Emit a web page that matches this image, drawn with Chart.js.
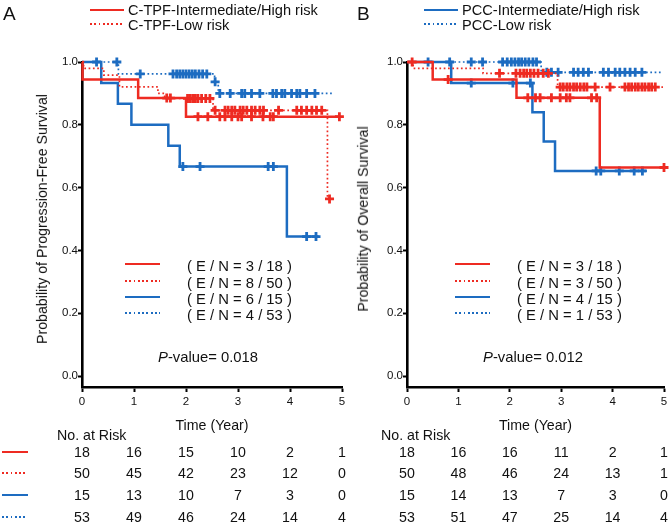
<!DOCTYPE html>
<html lang="en">
<head>
<meta charset="UTF-8">
<title>Kaplan-Meier curves by risk group</title>
<script src="https://cdn.jsdelivr.net/npm/chart.js"></script>
<style>
  body { margin: 0; background: #fff; font-family: Arial, "Liberation Sans", Helvetica, sans-serif; color: #111; }
  #page { position: relative; width: 672px; height: 526px; overflow: hidden; }
  canvas { position: absolute; top: 0; }
  .t { position: absolute; line-height: 1; white-space: nowrap; transform: translateY(-50%); font-size: 14px; }
  .c { transform: translate(-50%, -50%); }
  .ytitle { transform: translate(-50%, -50%) rotate(-90deg); }
  .smp { position: absolute; }
</style>
</head>
<body>
<div id="page">
  <canvas id="chartA" width="350" height="420" style="left:0px"></canvas>
  <canvas id="chartB" width="336" height="420" style="left:336px"></canvas>
</div>
<script>
const RED = '#ee2b22';
const BLUE = '#1d6cc1';

const xTicks = [0, 1, 2, 3, 4, 5];
const yTicks = [0, 0.2, 0.4, 0.6, 0.8, 1.0];

// ---- Panel A: progression-free survival ----
const pfsRedHighT = [0.01, 1.08, 2.0];
const pfsRedHighS = [0.944, 0.885, 0.826];
const pfsRedHighCens = [1.63, 1.7, 2.23, 2.42, 2.65, 2.75, 2.88, 3.0, 3.07, 3.26, 3.48, 3.62, 3.68, 4.95];

const pfsRedLowT = [0.03, 0.42, 0.72, 1.46, 1.59, 2.52, 4.72];
const pfsRedLowS = [0.98, 0.958, 0.921, 0.9, 0.884, 0.846, 0.564];
const pfsRedLowCens = [2.03, 2.08, 2.13, 2.18, 2.23, 2.3, 2.38, 2.46, 2.56, 2.75, 2.81, 2.88, 2.94, 3.04, 3.1, 3.17,
  3.26, 3.33, 3.42, 3.49, 3.78, 4.13, 4.22, 4.32, 4.42, 4.51, 4.61, 4.76];

const pfsBlueHighT = [0.37, 0.69, 0.95, 1.66, 1.88, 3.94];
const pfsBlueHighS = [0.933, 0.867, 0.8, 0.733, 0.667, 0.444];
const pfsBlueHighCens = [0.28, 1.94, 2.27, 3.58, 3.68, 4.32, 4.5];

const pfsBlueLowT = [0.7, 2.55, 2.62];
const pfsBlueLowS = [0.962, 0.937, 0.9];
const pfsBlueLowCens = [0.67, 1.12, 1.75, 1.82, 1.88, 1.94, 2.0, 2.06, 2.12, 2.18, 2.25, 2.32, 2.4, 2.56,
  2.65, 2.85, 3.07, 3.13, 3.26, 3.42, 3.67, 3.74, 3.84, 3.9, 4.03, 4.13, 4.19, 4.32, 4.48];

const pfsEnds = [4.95, 4.76, 4.55, 4.85];

// ---- Panel B: overall survival ----
const osRedHighT = [0.5, 2.13, 3.75];
const osRedHighS = [0.944, 0.886, 0.664];
const osRedHighCens = [0.8, 2.35, 2.5, 2.59, 2.81, 2.98, 3.1, 3.17, 3.59, 3.69, 5.0];

const osRedLowT = [0.12, 1.48, 2.93];
const osRedLowS = [0.98, 0.964, 0.92];
const osRedLowCens = [0.1, 1.8, 2.12, 2.2, 2.27, 2.33, 2.4, 2.47, 2.55, 2.65, 2.75,
  2.98, 3.04, 3.11, 3.17, 3.24, 3.3, 3.37, 3.44, 3.5, 3.66, 3.95, 4.24, 4.31, 4.37, 4.44, 4.5, 4.57, 4.63, 4.7, 4.76, 4.83];

const osBlueHighT = [0.86, 2.44, 2.66, 2.88];
const osBlueHighS = [0.933, 0.84, 0.747, 0.653];
const osBlueHighCens = [0.41, 0.83, 1.25, 2.06, 2.4, 3.68, 3.77, 4.13, 4.42, 4.58];

const osBlueLowT = [2.61];
const osBlueLowS = [0.967];
const osBlueLowCens = [1.25, 1.47, 1.86, 1.95, 2.03, 2.1, 2.17, 2.23, 2.3, 2.37, 2.45, 2.52, 2.72, 2.81, 2.94,
  3.24, 3.33, 3.43, 3.53, 3.82, 3.92, 4.05, 4.14, 4.24, 4.34, 4.44, 4.57];

const osEnds = [5.0, 4.98, 4.65, 4.98];

// legends and tables
const legendA = ['C-TPF-Intermediate/High risk', 'C-TPF-Low risk'];
const legendB = ['PCC-Intermediate/High risk', 'PCC-Low risk'];
const enA = ['( E / N = 3 / 18 )', '( E / N = 8 / 50 )', '( E / N = 6 / 15 )', '( E / N = 4 / 53 )'];
const enB = ['( E / N = 3 / 18 )', '( E / N = 3 / 50 )', '( E / N = 4 / 15 )', '( E / N = 1 / 53 )'];
const pValueA = '0.018';
const pValueB = '0.012';
const riskA = [[18, 16, 15, 10, 2, 1], [50, 45, 42, 23, 12, 0], [15, 13, 10, 7, 3, 0], [53, 49, 46, 24, 14, 4]];
const riskB = [[18, 16, 16, 11, 2, 1], [50, 48, 46, 24, 13, 1], [15, 14, 13, 7, 3, 0], [53, 51, 47, 25, 14, 4]];

const groupStyle = [
  { color: RED, dotted: false },
  { color: RED, dotted: true },
  { color: BLUE, dotted: false },
  { color: BLUE, dotted: true }
];

function stepPoints(times, surv, end) {
  const pts = [{ x: 0, y: 1 }];
  times.forEach((t, i) => pts.push({ x: t, y: surv[i] }));
  pts.push({ x: end, y: surv[surv.length - 1] });
  return pts;
}

function censorPoints(times, surv, cens) {
  return cens.map(c => {
    let y = 1;
    times.forEach((t, i) => { if (c >= t) y = surv[i]; });
    return { x: c, y: y };
  });
}

function buildDatasets(series, ends) {
  const sets = [];
  series.forEach((s, i) => {
    const st = groupStyle[i];
    sets.push({
      data: stepPoints(s[0], s[1], ends[i]),
      stepped: 'before',
      borderColor: st.color,
      borderWidth: st.dotted ? 1.7 : 2.5,
      borderDash: st.dotted ? [1.7, 2.6] : [],
      pointRadius: 0,
      pointHoverRadius: 0,
      fill: false,
      clip: false
    });
    sets.push({
      data: censorPoints(s[0], s[1], s[2]),
      showLine: false,
      pointStyle: 'cross',
      pointRadius: 4.5,
      pointHoverRadius: 4.5,
      borderColor: st.color,
      backgroundColor: st.color,
      pointBorderWidth: 2.8,
      clip: false
    });
  });
  return sets;
}

function makeChart(id, series, ends, yWidth) {
  const ctx = document.getElementById(id).getContext('2d');
  return new Chart(ctx, {
    type: 'line',
    data: { datasets: buildDatasets(series, ends) },
    options: {
      responsive: false,
      animation: false,
      events: [],
      layout: { padding: { left: 0, top: 62, right: 8, bottom: 0 } },
      plugins: { legend: { display: false }, tooltip: { enabled: false } },
      scales: {
        x: {
          type: 'linear', min: 0, max: 5,
          afterBuildTicks: s => { s.ticks = xTicks.map(v => ({ value: v })); },
          afterFit: s => { s.height = 33; },
          ticks: { font: { size: 11.5, family: 'Arial, "Liberation Sans"' }, color: '#111', padding: 3, maxRotation: 0, autoSkip: false },
          grid: { display: true, drawOnChartArea: false, tickLength: 5, tickWidth: 2, tickColor: '#000' },
          border: { display: true, color: '#000', width: 2.6 }
        },
        y: {
          type: 'linear', min: -0.035, max: 1,
          afterBuildTicks: s => { s.ticks = yTicks.map(v => ({ value: v })); },
          afterFit: s => { s.width = yWidth; },
          ticks: { font: { size: 11.5, family: 'Arial, "Liberation Sans"' }, color: '#111', padding: 0, callback: v => v.toFixed(1) },
          grid: { display: true, drawOnChartArea: false, tickLength: 4, tickWidth: 2, tickColor: '#000' },
          border: { display: true, color: '#000', width: 2.6 }
        }
      }
    }
  });
}

const chartA = makeChart('chartA', [
  [pfsRedHighT, pfsRedHighS, pfsRedHighCens],
  [pfsRedLowT, pfsRedLowS, pfsRedLowCens],
  [pfsBlueHighT, pfsBlueHighS, pfsBlueHighCens],
  [pfsBlueLowT, pfsBlueLowS, pfsBlueLowCens]
], pfsEnds, 82);

const chartB = makeChart('chartB', [
  [osRedHighT, osRedHighS, osRedHighCens],
  [osRedLowT, osRedLowS, osRedLowCens],
  [osBlueHighT, osBlueHighS, osBlueHighCens],
  [osBlueLowT, osBlueLowS, osBlueLowCens]
], osEnds, 71);

// ---- text and legend samples ----
const page = document.getElementById('page');

function addText(txt, x, y, cls, size) {
  const d = document.createElement('div');
  d.className = 't' + (cls ? ' ' + cls : '');
  d.style.left = x + 'px';
  d.style.top = y + 'px';
  if (size) d.style.fontSize = size + 'px';
  d.innerHTML = txt;
  page.appendChild(d);
  return d;
}

function addSample(x, y, w, groupIdx) {
  const st = groupStyle[groupIdx];
  const d = document.createElement('div');
  d.className = 'smp';
  d.style.left = x + 'px';
  d.style.width = w + 'px';
  if (st.dotted) {
    d.style.top = (y - 0.8) + 'px';
    d.style.height = '1.7px';
    d.style.background = 'repeating-linear-gradient(to right, ' + st.color + ' 0 1.7px, transparent 1.7px 4.3px)';
  } else {
    d.style.top = (y - 1.3) + 'px';
    d.style.height = '2.6px';
    d.style.background = st.color;
  }
  page.appendChild(d);
}

function drawPanel(chart, left, opt) {
  const xs = chart.scales.x;
  const area = chart.chartArea;
  const cx = left + (area.left + area.right) / 2;

  addText(opt.letter, opt.letterX, 13, '', 19);
  addSample(opt.legX, 10, 34, opt.legGroups[0]);
  addSample(opt.legX, 24, 34, opt.legGroups[1]);
  addText(opt.legend[0], opt.legX + 38, 10, '', 14.6);
  addText(opt.legend[1], opt.legX + 38, 25, '', 14.6);

  addText(opt.ytitle, opt.ytitleX, 219, 'ytitle', 14.2);

  const enY = [264, 281, 297, 313];
  opt.en.forEach((s, i) => {
    addSample(opt.enSampleX, enY[i], 35, i);
    addText(s, opt.enTextX, enY[i] + 2, '', 14.8);
  });
  addText('<i>P</i>-value= ' + opt.p, opt.pX, 357, '', 14.8);

  addText('Time (Year)', cx, 425, 'c', 14.2);
  addText('No. at Risk', opt.riskLabelX, 435, '', 14.2);
  const rowY = [452, 473, 495, 517];
  opt.risk.forEach((row, r) => {
    row.forEach((n, k) => {
      addText(String(n), left + xs.getPixelForValue(xTicks[k]), rowY[r], 'c', 14.2);
    });
  });
}

drawPanel(chartA, 0, {
  letter: 'A', letterX: 3, legX: 90, legGroups: [0, 1], legend: legendA,
  ytitle: 'Probability of Progression-Free Survival', ytitleX: 42,
  en: enA, enSampleX: 125, enTextX: 187, p: pValueA, pX: 158,
  riskLabelX: 57, risk: riskA
});

drawPanel(chartB, 336, {
  letter: 'B', letterX: 357, legX: 424, legGroups: [2, 3], legend: legendB,
  ytitle: 'Probability of Overall Survival', ytitleX: 363,
  en: enB, enSampleX: 455, enTextX: 517, p: pValueB, pX: 483,
  riskLabelX: 381, risk: riskB
});

// samples in front of the risk table rows
[452, 473, 495, 517].forEach((y, i) => addSample(2, y, 26, i));
</script>
</body>
</html>
